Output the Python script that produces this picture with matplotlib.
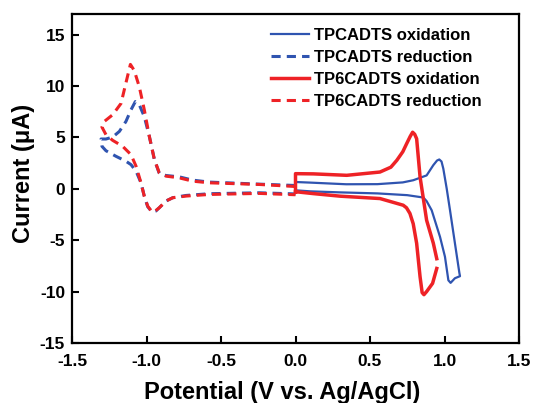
import numpy as np

import matplotlib
matplotlib.use('agg')

from matplotlib import pyplot as plt

# TPCADTS oxidation (solid blue)
tpc_ox_x = [0.0, 0.0, 0.10, 0.34, 0.55, 0.72, 0.79, 0.88, 0.925, 0.950, 0.965, 0.980,
            0.992, 1.015, 1.037, 1.070, 1.100, 1.104, 1.070, 1.041, 1.026, 1.003,
            0.970, 0.914, 0.880, 0.858, 0.75, 0.55, 0.30, 0.10, 0.0]
tpc_ox_y = [-0.15, 0.66, 0.60, 0.44, 0.45, 0.62, 0.83, 1.30, 2.30, 2.75, 2.85, 2.65,
            1.96, 0.0, -2.09, -5.3, -8.2, -8.5, -8.7, -9.15, -8.9, -6.6,
            -4.68, -2.09, -1.2, -0.85, -0.62, -0.45, -0.35, -0.25, -0.15]

# TPCADTS reduction (dashed blue)
tpc_red_x = [0.0, -0.243, -0.578, -0.690, -0.780, -0.869, -0.914, -0.947, -0.981,
             -1.015, -1.048, -1.075, -1.104, -1.138, -1.182, -1.227, -1.272, -1.305,
             -1.299, -1.272, -1.205, -1.138, -1.104, -1.070, -1.037, -1.015, -0.992,
             -0.963, -0.937, -0.914, -0.869, -0.824, -0.735, -0.578, -0.243, 0.0]
tpc_red_y = [0.32, 0.45, 0.65, 0.84, 1.16, 1.29, 1.48, 2.84, 5.1,
             7.03, 8.16, 8.48, 7.68, 6.55, 5.58, 5.03, 4.84, 4.84,
             4.13, 3.70, 3.16, 2.68, 2.35, 1.71, 0.58, -0.71, -1.74,
             -2.26, -2.16, -1.84, -1.19, -0.87, -0.65, -0.48, -0.39, -0.50]

# TP6CADTS oxidation (solid red), NaN = small break in the trace
tp6_ox_x = [0.0, 0.0, 0.12, 0.344, 0.567, 0.64, 0.68, 0.72, 0.746, 0.770, 0.786,
            0.800, 0.813, 0.836, 0.880, 0.925, 0.948, np.nan, 0.948, 0.920, 0.880,
            0.862, 0.850, 0.836, 0.813, 0.790, 0.768, 0.745, 0.723, 0.567, 0.30,
            0.12, 0.01, 0.0]
tp6_ox_y = [-0.3, 1.47, 1.45, 1.31, 1.63, 2.10, 2.77, 3.60, 4.39, 5.10, 5.5,
            5.30, 4.87, 1.15, -3.06, -5.3, -6.8, np.nan, -7.75, -9.2, -10.0,
            -10.3, -10.1, -8.56, -5.3, -3.4, -2.4, -1.85, -1.6, -0.95, -0.72,
            -0.47, -0.3, -0.3]

# TP6CADTS reduction (dashed red)
tp6_red_x = [0.0, -0.243, -0.578, -0.690, -0.780, -0.869, -0.914, -0.947, -0.981,
             -1.015, -1.048, -1.082, -1.108, -1.138, -1.171, -1.227, -1.283, -1.299,
             -1.272, -1.227, -1.160, -1.104, -1.070, -1.037, -1.015, -0.992,
             -0.963, -0.947, -0.914, -0.869, -0.824, -0.735, -0.578, -0.243, 0.0]
tp6_red_y = [0.22, 0.42, 0.58, 0.74, 1.06, 1.23, 1.55, 2.84, 5.1,
             7.7, 9.9, 11.5, 12.1, 10.3, 8.3, 7.2, 6.55, 6.0,
             5.26, 4.71, 4.13, 3.32, 2.19, 0.58, -0.71, -1.68,
             -2.26, -2.23, -1.84, -1.19, -0.87, -0.71, -0.55, -0.45, -0.58]

x_ticks = [-1.5, -1.0, -0.5, 0.0, 0.5, 1.0, 1.5]
y_ticks = [-15, -10, -5, 0, 5, 10, 15]

blue = '#2f54b0'
red = '#ee2226'

plt.rcParams['font.family'] = ['Liberation Sans', 'DejaVu Sans']
plt.rcParams['font.weight'] = 'bold'
plt.rcParams['axes.unicode_minus'] = False

fig = plt.figure(figsize=(5.34, 4.03), dpi=100)
ax = fig.add_axes([72/534, 1 - 343/403, 447/534, 329/403])

ax.plot(tpc_ox_x, tpc_ox_y, color=blue, lw=1.6, label='TPCADTS oxidation')
ax.plot(tpc_red_x, tpc_red_y, color=blue, lw=2.2, dashes=(3.0, 2.0),
        label='TPCADTS reduction')
ax.plot(tp6_ox_x, tp6_ox_y, color=red, lw=2.5, label='TP6CADTS oxidation')
ax.plot(tp6_red_x, tp6_red_y, color=red, lw=2.2, dashes=(3.0, 2.0),
        label='TP6CADTS reduction')

ax.set_xlim(-1.5, 1.5)
ax.set_ylim(-15, 17)
ax.set_xticks(x_ticks)
ax.set_yticks(y_ticks)
ax.set_xticklabels(['%.1f' % t for t in x_ticks])
ax.tick_params(direction='in', length=5, width=1.5, labelsize=12.5,
               top=False, right=False)
ax.tick_params(axis='x', pad=8)
ax.tick_params(axis='y', pad=5)
for s in ax.spines.values():
    s.set_linewidth(1.6)

ax.set_xlabel('Potential (V vs. Ag/AgCl)', size=17, fontweight='bold')
ax.set_ylabel('Current (\u03bcA)', size=17, fontweight='bold')
ax.xaxis.set_label_coords(0.47, -0.115)
ax.yaxis.set_label_coords(-0.082, 0.514)

ax.legend(loc='upper left', bbox_to_anchor=(271/534, 1 - 28/403),
          bbox_transform=fig.transFigure, frameon=False, fontsize=12,
          borderpad=0, borderaxespad=0, handlelength=2.3, handletextpad=0.3,
          labelspacing=0.42)

plt.savefig('out.png', dpi=100)
